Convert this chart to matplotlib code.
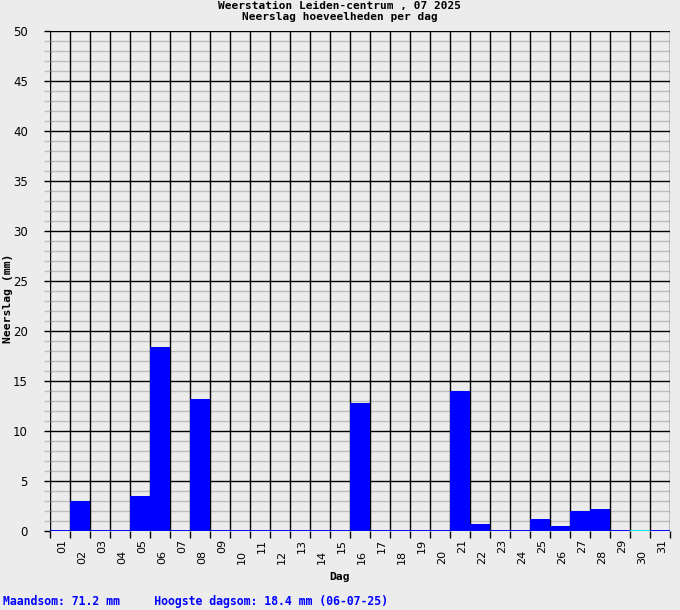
import matplotlib
matplotlib.use("Agg")
import matplotlib.pyplot as plt
import numpy as np

# ---- data ----
days = list(range(1, 32))
day_labels = [f"{d:02d}" for d in days]
rain_mm = [0.0, 3.0, 0.0, 0.0, 3.5, 18.4, 0.0, 13.2, 0.0, 0.0,
           0.0, 0.0, 0.0, 0.0, 0.0, 12.8, 0.0, 0.0, 0.0, 0.0,
           14.0, 0.7, 0.0, 0.0, 1.2, 0.5, 2.0, 2.2, 0.0, 0.0, 0.0]
missing_days = [30]
title_lines = ["Weerstation Leiden-centrum , 07 2025", "Neerslag hoeveelheden per dag"]
footer = "Maandsom: 71.2 mm     Hoogste dagsom: 18.4 mm (06-07-25)"
y_major = list(range(0, 51, 5))
y_minor = list(range(0, 51, 1))

BG = "#ECECEC"
MONO = "DejaVu Sans Mono"

W, H = 680, 610
fig = plt.figure(figsize=(W / 100, H / 100), dpi=100, facecolor=BG)
ax = fig.add_axes([50 / W, (H - 531) / H, 620 / W, 500 / H])
ax.set_facecolor(BG)
ax.set_xlim(0.5, 31.5)
ax.set_ylim(0, 50)
for s in ax.spines.values():
    s.set_visible(False)

# grid
for y in y_minor:
    if y % 5 != 0:
        ax.axhline(y, color="#BEBEBE", lw=1.0, zorder=1)
for y in y_major:
    if y > 0:
        ax.axhline(y, color="black", lw=1.0, zorder=1.5)
for x in np.arange(0.5, 32, 1.0):
    ax.axvline(x, color="black", lw=1.0, zorder=1.5)

# bars
ax.bar(days, rain_mm, width=1.0, color="#0000FF", zorder=2, linewidth=0)

# baseline (blue; cyan for missing)
for d in days:
    c = "#00E5EE" if d in missing_days else "#0000FF"
    ax.hlines(0, d - 0.5, d + 0.5, colors=c, lw=1.4, zorder=3)

# y ticks
ax.set_yticks(y_major)
ax.set_yticklabels([str(v) for v in y_major], fontsize=8.5, family="DejaVu Sans")
ax.set_yticks([v for v in y_minor if v % 5 != 0], minor=True)
ax.tick_params(axis="y", which="major", length=4, width=1, color="black", pad=12)
ax.tick_params(axis="y", which="minor", length=4, width=1, color="#BEBEBE")

# x ticks at boundaries
ax.set_xticks(np.arange(0.5, 32, 1.0))
ax.set_xticklabels([])
ax.tick_params(axis="x", which="major", length=5, width=1, color="black")

# alternating day labels
for d, lab in zip(days, day_labels):
    off = -0.016 if d % 2 == 1 else -0.038
    ax.text(d + 0.1, off, lab, transform=ax.get_xaxis_transform(), rotation=90,
            ha="center", va="top", fontsize=8, family="DejaVu Sans")

fig.text(8 / W, 1 - 298 / H, "Neerslag (mm)", family=MONO, fontweight="bold",
         fontsize=8.2, rotation=90, ha="center", va="center")
fig.text(340 / W, 1 - 577 / H, "Dag", family=MONO, fontweight="bold", fontsize=8.2,
         ha="center", va="center")

fig.text(340 / W, 1 - 6 / H, title_lines[0], family=MONO, fontweight="bold",
         fontsize=8.0, ha="center", va="center")
fig.text(340 / W, 1 - 17 / H, title_lines[1], family=MONO, fontweight="bold",
         fontsize=8.0, ha="center", va="center")

fig.text(3 / W, 1 - 602 / H, footer, family=MONO, fontweight="bold",
         fontsize=8.3, ha="left", va="center", color="#0000FF")

fig.savefig("out.png", dpi=100, facecolor=BG)
